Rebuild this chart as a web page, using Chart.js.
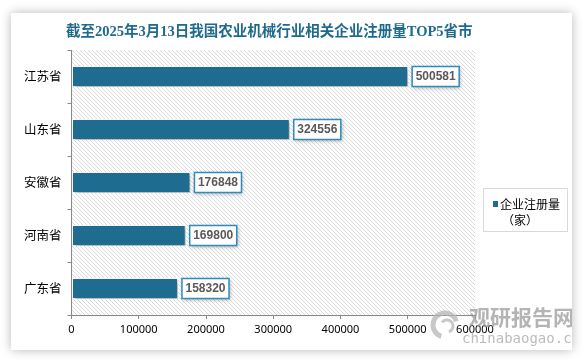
<!DOCTYPE html>
<html>
<head>
<meta charset="utf-8">
<script src="https://cdn.jsdelivr.net/npm/chart.js@4"></script>
<style>
  html, body { margin: 0; padding: 0; background: #ffffff; }
  body { width: 585px; height: 362px; position: relative; overflow: hidden; }
  #card {
    position: absolute; left: 11px; top: 13px; width: 561px; height: 337px;
    background: #fff; box-shadow: 0 0 10px rgba(0,0,0,0.28);
  }
</style>
</head>
<body>
<div id="card"><canvas id="chart" width="561" height="337"></canvas></div>
<script>
const chartTitle = '截至2025年3月13日我国农业机械行业相关企业注册量TOP5省市';
const categories = ['江苏省', '山东省', '安徽省', '河南省', '广东省'];
const values = [500581, 324556, 176848, 169800, 158320];
const seriesName = ['企业注册量', '（家）'];
const xMin = 0;
const xMax = 600000;
const xStep = 100000;

const barColor = '#1e6c8f';
const cjk = '"Noto Sans CJK SC", "Noto Sans", sans-serif';

function makeHatch(ctx) {
  const c = document.createElement('canvas');
  c.width = 4; c.height = 4;
  const p = c.getContext('2d');
  p.fillStyle = '#ffffff';
  p.fillRect(0, 0, 4, 4);
  p.fillStyle = '#dadada';
  for (let i = 0; i < 4; i++) p.fillRect(i, i, 1, 1);
  return ctx.createPattern(c, 'repeat');
}

const hatchBg = {
  id: 'hatchBg',
  beforeDraw(chart) {
    const { ctx, chartArea: a } = chart;
    ctx.save();
    ctx.fillStyle = makeHatch(ctx);
    ctx.fillRect(a.left, a.top, a.right - a.left, a.bottom - a.top);
    ctx.restore();
  }
};

const barShadow = {
  id: 'barShadow',
  beforeDatasetsDraw(chart) {
    const ctx = chart.ctx;
    ctx.save();
    ctx.shadowColor = 'rgba(0,0,0,0.35)';
    ctx.shadowBlur = 4;
    ctx.shadowOffsetX = 2;
    ctx.shadowOffsetY = 2;
  },
  afterDatasetsDraw(chart) {
    chart.ctx.restore();
  }
};

const valueLabels = {
  id: 'valueLabels',
  afterDatasetsDraw(chart) {
    const ctx = chart.ctx;
    const meta = chart.getDatasetMeta(0);
    ctx.save();
    ctx.font = 'bold 12px "Liberation Sans", Arial, sans-serif';
    ctx.textBaseline = 'middle';
    ctx.textAlign = 'left';
    meta.data.forEach((bar, i) => {
      const txt = String(values[i]);
      const w = ctx.measureText(txt).width + 7;
      const h = 20;
      const x = bar.x + 4;
      const y = bar.y - h / 2;
      ctx.save();
      ctx.shadowColor = 'rgba(0,0,0,0.3)';
      ctx.shadowBlur = 4;
      ctx.shadowOffsetX = 1;
      ctx.shadowOffsetY = 1;
      ctx.fillStyle = '#ffffff';
      ctx.fillRect(x, y, w, h);
      ctx.restore();
      ctx.strokeStyle = '#2f8cbd';
      ctx.lineWidth = 1.5;
      ctx.strokeRect(x, y, w, h);
      ctx.fillStyle = '#595959';
      ctx.fillText(txt, x + 3.5, bar.y + 0.5);
    });
    ctx.restore();
  }
};

const extras = {
  id: 'extras',
  afterDraw(chart) {
    const { ctx, chartArea: a } = chart;
    ctx.save();
    // title
    ctx.font = 'bold 14.5px "Liberation Serif", "Noto Sans CJK SC", serif';
    ctx.fillStyle = '#1f6a8c';
    ctx.textAlign = 'center';
    ctx.textBaseline = 'middle';
    ctx.fillText(chartTitle, (a.left + a.right) / 2 - 4, 19);

    // legend
    const lx = 472, ly = 175, lw = 84, lh = 43;
    ctx.strokeStyle = '#d9d9d9';
    ctx.lineWidth = 1;
    ctx.strokeRect(lx + 0.5, ly + 0.5, lw, lh);
    ctx.fillStyle = barColor;
    ctx.fillRect(lx + 10, ly + 13, 5, 6);
    ctx.fillStyle = '#000000';
    ctx.font = '12px ' + cjk;
    ctx.textAlign = 'left';
    ctx.fillText(seriesName[0], lx + 17, ly + 16);
    ctx.fillText(seriesName[1], lx + 19, ly + 32);

    // watermark
    ctx.globalAlpha = 0.75;
    ctx.strokeStyle = '#b5b5b5';
    ctx.lineWidth = 5;
    ctx.beginPath();
    ctx.arc(434, 312, 12, Math.PI * 0.6, Math.PI * 1.9);
    ctx.stroke();
    ctx.lineWidth = 3;
    ctx.beginPath();
    ctx.arc(436, 313, 6, Math.PI * 1.2, Math.PI * 2.4);
    ctx.stroke();
    ctx.fillStyle = '#9b9b9b';
    ctx.font = 'bold 21px ' + cjk;
    ctx.textAlign = 'left';
    ctx.fillText('观研报告网', 458, 304);
    ctx.fillStyle = '#a6a6a6';
    ctx.font = '14px "DejaVu Sans Mono", monospace';
    ctx.fillText('chinabaogao.com', 451, 326);
    ctx.restore();
  }
};

new Chart(document.getElementById('chart'), {
  type: 'bar',
  data: {
    labels: categories,
    datasets: [{
      label: seriesName.join(''),
      data: values,
      backgroundColor: barColor,
      borderColor: '#ffffff',
      borderWidth: 1,
      borderSkipped: false,
      barPercentage: 0.4,
      categoryPercentage: 1
    }]
  },
  options: {
    indexAxis: 'y',
    responsive: false,
    animation: false,
    layout: { padding: { top: 37, right: 97, left: 0, bottom: 0 } },
    plugins: {
      legend: { display: false },
      title: { display: false },
      tooltip: { enabled: false }
    },
    scales: {
      x: {
        min: xMin,
        max: xMax,
        afterFit(s) { s.height = 35; },
        ticks: {
          stepSize: xStep,
          color: '#000000',
          padding: 4,
          maxRotation: 0,
          callback: v => String(v),
          font: { family: '"Noto Sans", sans-serif', size: 11 }
        },
        grid: { drawOnChartArea: false, drawTicks: true, tickLength: 4, color: '#898989' },
        border: { color: '#898989' }
      },
      y: {
        afterFit(s) { s.width = 60.5; },
        ticks: {
          color: '#000000',
          padding: 6,
          font: { family: cjk, size: 12.5 }
        },
        grid: { offset: true, drawOnChartArea: false, drawTicks: true, tickLength: 4, color: '#898989' },
        border: { color: '#898989' }
      }
    }
  },
  plugins: [hatchBg, barShadow, valueLabels, extras]
});
</script>
</body>
</html>
